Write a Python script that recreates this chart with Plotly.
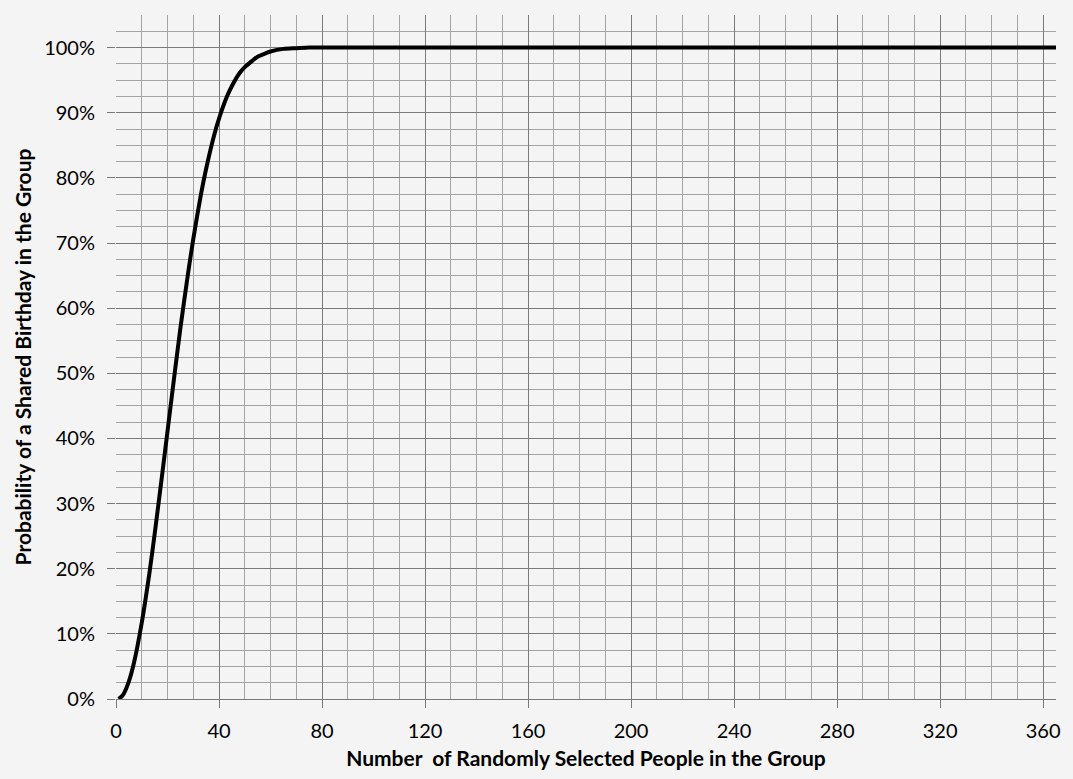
import plotly.graph_objects as go

group_size = [1, 2, 3, 5, 7, 10, 13, 15, 18, 20, 23, 25, 28, 30, 33, 35, 38, 40,
              43, 45, 48, 50, 53, 55, 58, 60, 65, 70, 75, 80, 90, 100, 150, 200,
              250, 300, 365]
probability = [0.0, 0.003, 0.008, 0.027, 0.056, 0.117, 0.194, 0.253, 0.347, 0.411,
               0.507, 0.569, 0.654, 0.706, 0.775, 0.814, 0.864, 0.891, 0.924, 0.941,
               0.961, 0.970, 0.980, 0.986, 0.991, 0.994, 0.998, 0.999, 1.0, 1.0, 1.0,
               1.0, 1.0, 1.0, 1.0, 1.0, 1.0]

x_ticks = [0, 40, 80, 120, 160, 200, 240, 280, 320, 360]
y_ticks = [0, 0.1, 0.2, 0.3, 0.4, 0.5, 0.6, 0.7, 0.8, 0.9, 1.0]
y_tick_labels = ["0%", "10%", "20%", "30%", "40%", "50%", "60%", "70%", "80%", "90%", "100%"]

FONT = "Lato, 'Open Sans', sans-serif"
BG = "#f4f4f4"
MAJOR = "#7a7a7a"
MINOR = "#a4a4a4"

fig = go.Figure()
fig.add_trace(go.Scatter(
    x=group_size, y=probability, mode="lines",
    line=dict(color="black", width=4, shape="spline", smoothing=0.6),
    showlegend=False, hoverinfo="skip",
))

fig.update_layout(
    width=1073, height=779,
    paper_bgcolor=BG, plot_bgcolor=BG,
    margin=dict(l=116, r=15, t=15, b=80),
    font=dict(family=FONT, color="#000000", size=20),
    xaxis=dict(
        range=[0, 365], tickvals=x_ticks, ticktext=[str(v) for v in x_ticks],
        showgrid=True, gridcolor=MAJOR, gridwidth=1,
        minor=dict(dtick=10, tick0=0, showgrid=True, gridcolor=MINOR, gridwidth=1, ticks=""),
        ticks="outside", ticklen=8, tickcolor=MAJOR, tickwidth=1,
        ticklabelstandoff=6,
        showline=True, linecolor=MAJOR, linewidth=1, zeroline=False,
        tickfont=dict(size=20),
        title=dict(text="<b>Number  of Randomly Selected People in the Group</b>",
                   font=dict(size=21), standoff=10),
    ),
    yaxis=dict(
        range=[0, 1.05], tickvals=y_ticks, ticktext=y_tick_labels,
        showgrid=True, gridcolor=MAJOR, gridwidth=1,
        minor=dict(dtick=0.025, tick0=0, showgrid=True, gridcolor=MINOR, gridwidth=1, ticks=""),
        ticks="outside", ticklen=8, tickcolor=MAJOR, tickwidth=1,
        ticklabelstandoff=8,
        showline=False, zeroline=False,
        tickfont=dict(size=20),
        title=dict(text="<b>Probability of a Shared Birthday in the Group</b>",
                   font=dict(size=21), standoff=6),
    ),
)

fig.write_html("out.html", config={"displayModeBar": False},
               post_script="document.body.style.margin='0';document.body.style.background='#f4f4f4';")
